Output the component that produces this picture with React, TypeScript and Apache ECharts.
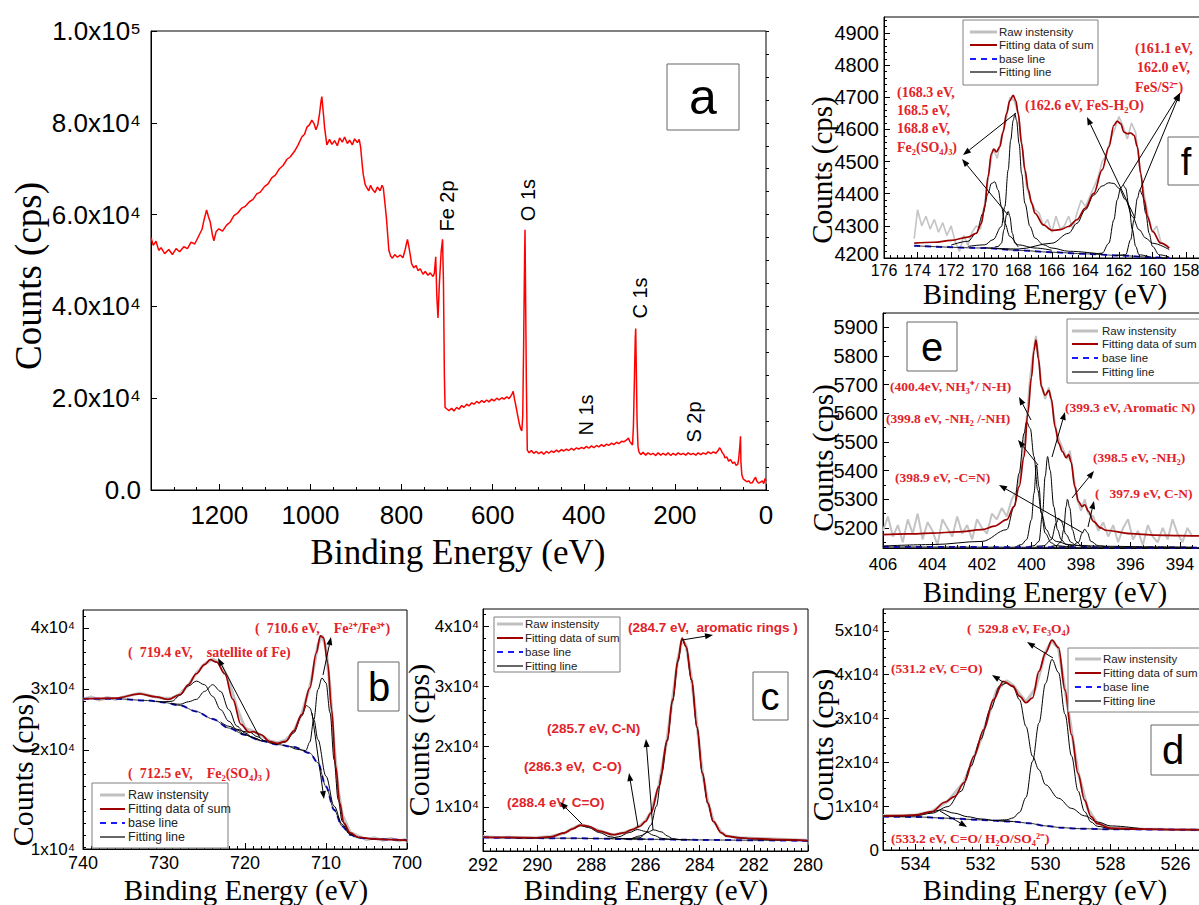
import React, { useEffect, useRef } from "react";
import * as echarts from "echarts";

const SANS = "'Liberation Sans', Arial, sans-serif";
const SERIF = "'Liberation Serif', 'Times New Roman', serif";
const RED = "#e2232a";

// ---------------- Panel a : survey ----------------
const surveyData: [number, number][] = [
  [1350, 55000], [1345, 53300], [1339, 54200], [1333, 52200], [1328, 52800], [1320, 51500], [1311, 52400], [1303, 51300],
  [1295, 52600], [1287, 51900], [1278, 53000], [1270, 52600], [1262, 54000], [1254, 53600], [1245, 55400], [1238, 56800],
  [1234, 58700], [1228, 61000], [1224, 59600], [1220, 58400], [1215, 55500], [1212, 54300], [1207, 56300], [1201, 56900],
  [1193, 56400], [1184, 57700], [1176, 58400], [1168, 59800], [1160, 60300], [1151, 61400], [1143, 61800], [1134, 62800],
  [1126, 63300], [1118, 64500], [1110, 64900], [1101, 66100], [1093, 66700], [1085, 68000], [1077, 68600], [1068, 70000],
  [1060, 70700], [1052, 72000], [1044, 72600], [1035, 73800], [1027, 75200], [1019, 76900], [1013, 77500], [1008, 79000],
  [1002, 79600], [997, 80600], [992, 79800], [988, 78500], [984, 79500], [980, 82000], [977, 84500], [975, 85700],
  [972, 82500], [969, 79000], [964, 75200], [958, 76400], [953, 75300], [947, 76100], [941, 75000], [936, 76700],
  [930, 75800], [925, 76900], [919, 75500], [914, 76200], [908, 75200], [903, 76500], [897, 75700], [893, 76400],
  [890, 74800], [886, 70500], [884, 68700], [880, 66600], [877, 66000], [872, 65200], [868, 66400], [864, 65500],
  [858, 64800], [853, 66000], [847, 65200], [843, 66400], [840, 65800], [836, 62000], [833, 59000], [830, 55000],
  [828, 52300], [824, 51000], [820, 50500], [815, 51300], [809, 50700], [803, 51200], [797, 50600], [792, 52400],
  [789, 53800], [787, 54600], [784, 53000], [781, 51300], [778, 49300], [773, 48400], [768, 48900], [764, 47800],
  [759, 48200], [753, 47000], [748, 47600], [742, 46800], [737, 47300], [731, 46500], [728, 47200], [725, 50800],
  [722.5, 42000], [720, 37500], [717, 45000], [713, 52000], [710, 54600], [708, 45000], [706, 25000], [704.5, 18000],
  [701, 17700], [696, 17300], [690, 17800], [685, 17200], [679, 18000], [674, 17600], [668, 18400], [663, 18000],
  [657, 18700], [652, 18300], [646, 19000], [641, 18700], [635, 19300], [630, 18900], [624, 19500], [619, 19100],
  [613, 19600], [608, 19200], [602, 19800], [597, 19400], [591, 20000], [586, 19600], [580, 20100], [575, 19800],
  [569, 20300], [564, 19900], [560, 20500], [557, 21000], [555, 21500], [552, 19800], [549, 18300], [545, 16200],
  [541, 14200], [538, 13200], [536, 12900], [534, 16000], [532, 31700], [530, 50000], [529, 56700], [527.5, 40000],
  [526, 23300], [524, 8700], [520, 8100], [515, 8600], [510, 8000], [504, 8400], [499, 7900], [493, 8300],
  [488, 7800], [482, 8400], [477, 8000], [471, 8500], [466, 8200], [460, 8700], [455, 8300], [449, 8800],
  [444, 8500], [438, 8900], [433, 8600], [427, 9100], [422, 8700], [416, 9200], [411, 8900], [405, 9300],
  [400, 9000], [394, 9500], [389, 9100], [383, 9600], [378, 9200], [372, 9700], [367, 9400], [361, 9900],
  [356, 9500], [350, 10000], [345, 9700], [339, 10200], [334, 9900], [328, 10400], [323, 10100], [317, 10600],
  [312, 10500], [306, 10900], [302, 11300], [299, 10600], [296, 10200], [293, 9800], [291, 14000], [289, 23300],
  [287, 33000], [286, 35200], [284.5, 25000], [283, 15000], [281, 9500], [279, 8300], [275, 7700], [270, 8200],
  [264, 7600], [259, 8100], [253, 7700], [248, 8000], [242, 7500], [237, 8100], [231, 7600], [226, 8000],
  [220, 7600], [215, 8100], [209, 7500], [204, 8000], [198, 7600], [193, 8100], [187, 7700], [182, 8000],
  [176, 7600], [171, 8100], [165, 7700], [160, 8000], [154, 7600], [149, 8100], [143, 7700], [138, 8100],
  [132, 7800], [127, 8300], [121, 7900], [116, 8300], [110, 8000], [105, 8600], [102, 9200], [99, 8800],
  [96, 8100], [93, 7800], [90, 7000], [86, 7200], [82, 6300], [78, 6600], [73, 5800], [69, 6100],
  [66, 5400], [62, 5600], [60, 6700], [57, 10000], [56, 11700], [55, 6000], [53, 3300], [50, 2400],
  [46, 2100], [42, 1800], [38, 2000], [34, 1500], [30, 1600], [26, 2300], [23, 2800], [20, 1900],
  [16, 1500], [12, 1700], [8, 2000], [5, 1400], [2, 2500], [0, 2000],
];
const surveyPeaks = [
  { name: "Fe 2p", x: 447, y: 206 },
  { name: "O 1s", x: 528, y: 200 },
  { name: "C 1s", x: 640, y: 298 },
  { name: "N 1s", x: 586, y: 415 },
  { name: "S 2p", x: 694, y: 422 },
];

// ---------------- Panel b : Fe 2p ----------------
const bRaw: [number, number][] = [
  [740, 28300], [739, 28700], [738, 28200], [737, 28600], [736, 28300], [735, 28700], [734, 29000], [733, 29300],
  [732, 29000], [731, 28700], [730, 28500], [729, 28500], [728, 29200], [727, 30600], [726, 32600], [725, 34100],
  [724, 34900], [723, 34200], [722, 31500], [721, 26900], [720, 23600], [719, 23100], [718, 22400], [717, 21500],
  [716, 21200], [715, 21600], [714, 23000], [713, 25900], [712, 30300], [711.5, 33600], [711, 37200], [710.5, 38800],
  [710, 36800], [709.5, 30100], [709, 20800], [708.5, 13600], [708, 9400], [707, 6500], [706, 5900], [705, 5300],
  [704, 5600], [703, 5200], [702, 5500], [701, 5100], [700, 5400],
];
const bSum: [number, number][] = [
  [740, 28400], [736, 28500], [733, 29200], [731, 28700], [729.5, 28300], [728, 29100], [727, 30700], [726, 32500],
  [725, 34000], [724.3, 34800], [723.5, 34400], [722.5, 32500], [721.5, 28300], [720.5, 24200], [719.5, 22900],
  [719, 23000], [718, 22500], [717, 21400], [716, 21100], [715, 21400], [714, 23100], [713, 25800], [712, 30200],
  [711.2, 35900], [710.7, 38700], [710.3, 38400], [709.8, 34300], [709.3, 26600], [708.8, 17300], [708.3, 11300],
  [707.8, 8000], [707, 6400], [706, 5700], [704, 5400], [702, 5300], [700, 5200],
];
const bBase: [number, number][] = [
  [740, 28400], [736, 28400], [732, 28100], [730, 27800], [728, 27300], [726, 26300], [724, 25100], [722, 23600],
  [720, 22500], [718, 21500], [716, 20900], [714, 20500], [712, 19500], [711, 17900], [710, 14000], [709, 10200],
  [708, 7500], [707, 6100], [706, 5600], [704, 5400], [700, 5200],
];
const bComp726: [number, number][] = [
  [731, 28000], [730, 27900], [729, 28000], [728, 29000], [727, 30500], [726, 31300], [725, 30700], [724, 28800],
  [723, 26600], [722, 24700], [721, 23300], [720, 22500], [719, 22000], [718, 21500],
];
const bComp724: [number, number][] = [
  [729, 27600], [728, 27500], [727, 27900], [726, 28300], [725, 29600], [724, 30700], [723, 29600], [722, 26600],
  [721, 23900], [720, 22800], [719, 22000], [718, 21500],
];
const bComp719: [number, number][] = [
  [723, 24600], [722, 23900], [721, 23400], [720, 23000], [719.4, 22900], [718.5, 22200], [717.5, 21500], [716, 20900],
];
const bComp712: [number, number][] = [
  [717, 21200], [716, 21000], [715, 21300], [714, 22800], [713, 25600], [712.4, 27300], [712, 26900], [711.5, 25000],
  [711, 21700], [710, 15700], [709, 10800], [708, 7800], [707, 6200], [706, 5600],
];
const bComp710: [number, number][] = [
  [714.5, 20600], [713.5, 20100], [712.5, 19900], [712, 21300], [711.5, 25000], [711, 29900], [710.5, 31800],
  [710, 31000], [709.5, 26100], [709, 18400], [708.5, 11900], [708, 8300], [707, 6200], [706, 5600],
];

// ---------------- Panel c : C 1s ----------------
const cRaw: [number, number][] = [
  [292, 5100], [291.5, 4950], [291, 5000], [290.5, 4900], [290, 4950], [289.5, 5100], [289, 5650], [288.7, 6400],
  [288.4, 7050], [288.1, 6750], [287.7, 6050], [287.2, 5350], [286.8, 5750], [286.5, 6200], [286.2, 6900], [286, 7700],
  [285.8, 9100], [285.5, 13600], [285.2, 21300], [285, 28000], [284.8, 34600], [284.65, 37700], [284.5, 36800],
  [284.3, 31300], [284.1, 23600], [283.9, 15800], [283.7, 10900], [283.5, 7800], [283.2, 5800], [283, 5200],
  [282.5, 4900], [282, 4800], [281, 4650], [280, 4480],
];
const cSum: [number, number][] = [
  [292, 5000], [291, 4950], [290, 4900], [289.5, 5050], [289, 5700], [288.7, 6350], [288.4, 7000], [288.1, 6800],
  [287.7, 6000], [287.2, 5400], [286.8, 5700], [286.5, 6250], [286.2, 6800], [286, 7600], [285.8, 9000], [285.5, 13400],
  [285.2, 21100], [285, 27800], [284.8, 34400], [284.65, 38000], [284.5, 36600], [284.3, 31100], [284.1, 23300],
  [283.9, 15600], [283.7, 10700], [283.5, 7600], [283.2, 5700], [283, 5150], [282.5, 4870], [282, 4760], [281, 4600],
  [280, 4430],
];
const cBase: [number, number][] = [
  [292, 4930], [289, 4820], [286, 4650], [284, 4540], [282, 4480], [280, 4380],
];
const cComp2884: [number, number][] = [
  [291, 4900], [290, 4870], [289.5, 5040], [289, 5700], [288.7, 6350], [288.4, 6900], [288.1, 6600], [287.7, 5750],
  [287.3, 5050], [287, 4800], [286.5, 4720], [286, 4670],
];
const cComp2863: [number, number][] = [
  [287.5, 4760], [287.3, 4790], [287, 5050], [286.6, 5750], [286.3, 6250], [286, 5950], [285.7, 5300], [285.4, 4800],
  [285, 4620], [284.5, 4570],
];
const cComp2857: [number, number][] = [
  [286.8, 4700], [286.6, 4710], [286.2, 5200], [285.9, 5860], [285.7, 6200], [285.4, 5860], [285.2, 5200], [285, 4760],
  [284.7, 4580], [284.3, 4540],
];
const cComp2847: [number, number][] = [
  [286.6, 4680], [286.2, 4900], [286, 5600], [285.8, 7000], [285.6, 10100], [285.4, 15600], [285.2, 20900], [285, 27500],
  [284.8, 34100], [284.65, 37800], [284.5, 36500], [284.3, 31000], [284.1, 23200], [283.9, 15600], [283.7, 10600],
  [283.5, 7600], [283.2, 5700], [283, 5150], [282.5, 4870], [282, 4700], [281, 4560], [280, 4400],
];

// ---------------- Panel d : O 1s ----------------
const dRaw: [number, number][] = [
  [535, 7900], [534.5, 7800], [534, 8000], [533.5, 8800], [533, 11200], [532.5, 15600], [532, 25000], [531.5, 36500],
  [531.2, 38600], [531, 37600], [530.6, 33800], [530.3, 37000], [530, 45200], [529.8, 47800], [529.6, 46000],
  [529.3, 32000], [529, 17800], [528.7, 9400], [528.4, 6100], [528, 5100], [527, 4800], [526, 4700], [525, 4600],
];
const dSum: [number, number][] = [
  [535, 7800], [534.5, 7850], [534, 7950], [533.5, 8750], [533.1, 10900], [532.8, 12200], [532.5, 15400], [532.2, 21400],
  [531.9, 27500], [531.6, 34300], [531.3, 38500], [531, 37400], [530.8, 35100], [530.6, 33600], [530.4, 34700],
  [530.2, 40800], [530, 45000], [529.8, 47900], [529.6, 46200], [529.4, 36500], [529.2, 26300], [529, 17500],
  [528.8, 11400], [528.6, 7600], [528.4, 6000], [528, 5000], [527, 4750], [526, 4650], [525, 4600],
];
const dBase: [number, number][] = [
  [535, 7630], [534, 7550], [533, 7250], [532, 6870], [531, 6490], [530.5, 6100], [530, 5500], [529.5, 5100],
  [529, 4880], [528, 4730], [525, 4580],
];
const dComp5312: [number, number][] = [
  [534.5, 7700], [534, 7800], [533.5, 8400], [533, 9900], [532.6, 13400], [532.3, 19100], [532, 25200], [531.7, 32000],
  [531.4, 37500], [531.2, 38100], [531, 37200], [530.8, 34300], [530.6, 28200], [530.4, 21400], [530.2, 18300],
  [530, 14900], [529.6, 11800], [529.2, 9500], [528.8, 7800], [528.4, 6400], [528, 5500], [527, 4800],
];
const dComp5298: [number, number][] = [
  [531.6, 6700], [531.2, 6900], [531, 7300], [530.8, 8600], [530.6, 12000], [530.4, 20200], [530.2, 29000],
  [530, 38000], [529.8, 43500], [529.6, 40500], [529.4, 31000], [529.2, 21500], [529, 13500], [528.8, 8800],
  [528.6, 6400], [528.4, 5400], [528, 4900], [527, 4730], [525, 4580],
];
const dComp5332: [number, number][] = [
  [535, 7650], [534.5, 7700], [534, 8000], [533.6, 8550], [533.2, 9150], [532.8, 8400], [532.4, 7600], [532, 7100],
  [531.5, 6700], [531, 6500],
];

// ---------------- Panel e : N 1s ----------------
const eRaw: [number, number][] = [
  [406, 5190], [405.8, 5240], [405.6, 5170], [405.4, 5210], [405.2, 5150], [405, 5230], [404.8, 5180], [404.6, 5250],
  [404.4, 5160], [404.2, 5220], [404, 5190], [403.8, 5140], [403.6, 5230], [403.4, 5200], [403.2, 5170], [403, 5240],
  [402.8, 5180], [402.6, 5210], [402.4, 5160], [402.2, 5230], [402, 5200], [401.8, 5180], [401.6, 5250], [401.4, 5230],
  [401.2, 5270], [401, 5240], [400.8, 5300], [400.6, 5330], [400.4, 5420], [400.2, 5580], [400.05, 5730], [399.9, 5830],
  [399.82, 5870], [399.72, 5800], [399.6, 5700], [399.45, 5650], [399.3, 5690], [399.15, 5620], [399, 5540],
  [398.85, 5500], [398.7, 5470], [398.55, 5440], [398.45, 5470], [398.3, 5380], [398.15, 5300], [398, 5260],
  [397.85, 5300], [397.7, 5250], [397.5, 5240], [397.3, 5190], [397.1, 5220], [396.9, 5170], [396.7, 5210],
  [396.5, 5150], [396.3, 5200], [396.1, 5230], [395.9, 5160], [395.7, 5190], [395.5, 5140], [395.3, 5210],
  [395.1, 5170], [394.9, 5150], [394.7, 5200], [394.5, 5160], [394.3, 5230], [394.1, 5180], [393.9, 5150],
  [393.7, 5200], [393.5, 5170],
];
const eSum: [number, number][] = [
  [406, 5177], [405, 5179], [404, 5182], [403, 5186], [402, 5194], [401.5, 5206], [401, 5229], [400.7, 5275],
  [400.5, 5344], [400.3, 5449], [400.15, 5599], [400, 5726], [399.9, 5819], [399.82, 5856], [399.72, 5790],
  [399.6, 5692], [399.45, 5663], [399.3, 5680], [399.2, 5651], [399.05, 5553], [398.9, 5495], [398.75, 5466],
  [398.6, 5445], [398.5, 5456], [398.4, 5430], [398.25, 5344], [398.1, 5292], [397.95, 5275], [397.85, 5281],
  [397.7, 5258], [397.5, 5223], [397.2, 5200], [397, 5192], [396, 5180], [395, 5175], [394, 5173], [393, 5172],
  [392, 5172],
];
const eBase: [number, number][] = [[406, 5134], [392, 5131]];
const eComp4004: [number, number][] = [
  [406, 5137], [404, 5142], [402, 5153], [401, 5194], [400.7, 5275], [400.5, 5391], [400.3, 5530], [400.2, 5570],
  [400.05, 5547], [399.9, 5449], [399.75, 5333], [399.6, 5252], [399.4, 5194], [399.2, 5165], [399, 5153],
  [398.5, 5142], [398, 5138], [397, 5136], [395, 5134], [393.5, 5133],
];
const eComp3998: [number, number][] = [
  [400.6, 5136], [400.4, 5142], [400.2, 5159], [400, 5229], [399.9, 5321], [399.8, 5420], [399.7, 5344], [399.6, 5252],
  [399.45, 5182], [399.2, 5148], [399, 5138], [398.6, 5135],
];
const eComp3993: [number, number][] = [
  [400.1, 5135], [399.9, 5138], [399.7, 5153], [399.55, 5252], [399.45, 5379], [399.35, 5449], [399.25, 5402],
  [399.1, 5275], [398.95, 5194], [398.8, 5159], [398.6, 5142], [398.3, 5136],
];
const eComp3989: [number, number][] = [
  [399.8, 5136], [399.5, 5138], [399.2, 5159], [399, 5217], [398.9, 5234], [398.8, 5223], [398.6, 5177], [398.4, 5150],
  [398.2, 5139], [397.8, 5135],
];
const eComp3985: [number, number][] = [
  [399.2, 5136], [399, 5138], [398.8, 5153], [398.7, 5194], [398.6, 5275], [398.55, 5300], [398.45, 5269],
  [398.35, 5194], [398.2, 5153], [398, 5139], [397.6, 5135],
];
const eComp3979: [number, number][] = [
  [398.6, 5135], [398.4, 5136], [398.1, 5150], [397.95, 5182], [397.85, 5196], [397.75, 5185], [397.6, 5153],
  [397.3, 5138], [397, 5135],
];

// ---------------- Panel f : S 2p ----------------
const fRaw: [number, number][] = [
  [174.2, 4260], [174, 4350], [173.75, 4300], [173.5, 4330], [173.25, 4290], [173, 4320], [172.75, 4280], [172.5, 4310],
  [172.25, 4270], [172, 4300], [171.75, 4250], [171.5, 4220], [171.25, 4270], [171, 4240], [170.75, 4280], [170.5, 4300],
  [170.25, 4290], [170, 4370], [169.75, 4460], [169.5, 4540], [169.25, 4510], [169, 4580], [168.75, 4620], [168.5, 4700],
  [168.25, 4690], [168, 4650], [167.75, 4540], [167.5, 4420], [167.25, 4380], [167, 4350], [166.75, 4340], [166.5, 4300],
  [166.25, 4320], [166, 4280], [165.75, 4330], [165.5, 4290], [165.25, 4300], [165, 4330], [164.75, 4290], [164.5, 4340],
  [164.25, 4380], [164, 4360], [163.75, 4390], [163.5, 4420], [163.25, 4450], [163, 4500], [162.75, 4520], [162.5, 4570],
  [162.25, 4600], [162, 4640], [161.75, 4610], [161.5, 4570], [161.25, 4620], [161, 4590], [160.75, 4480], [160.5, 4400],
  [160.25, 4330], [160, 4280], [159.75, 4300], [159.5, 4250], [159.25, 4240], [159, 4230],
];
const fSum: [number, number][] = [
  [174.2, 4246], [173, 4249], [172, 4255], [171, 4265], [170.5, 4277], [170.2, 4308], [170, 4360], [169.8, 4453],
  [169.6, 4525], [169.45, 4539], [169.3, 4530], [169.1, 4546], [168.9, 4592], [168.7, 4649], [168.5, 4690],
  [168.3, 4706], [168.15, 4690], [168, 4649], [167.8, 4556], [167.6, 4474], [167.4, 4412], [167.2, 4370], [167, 4339],
  [166.5, 4303], [166, 4286], [165.5, 4288], [165, 4298], [164.5, 4319], [164, 4355], [163.5, 4401], [163, 4474],
  [162.6, 4546], [162.3, 4613], [162.1, 4626], [161.9, 4618], [161.7, 4592], [161.5, 4587], [161.3, 4589],
  [161.1, 4582], [160.9, 4546], [160.7, 4463], [160.5, 4381], [160.3, 4329], [160, 4283], [159.5, 4246], [159, 4231],
];
const fBase: [number, number][] = [
  [174.2, 4238], [170, 4231], [168, 4224], [166, 4218], [164, 4213], [162, 4208], [160, 4202], [159, 4200],
];
const fComp1683: [number, number][] = [
  [171, 4236], [170, 4241], [169.5, 4257], [169, 4298], [168.8, 4360], [168.6, 4474], [168.45, 4567], [168.3, 4628],
  [168.2, 4649], [168.1, 4628], [167.95, 4556], [167.8, 4463], [167.6, 4370], [167.3, 4298], [167, 4262],
  [166.5, 4241], [166, 4231], [165, 4221], [163, 4212],
];
const fComp1694: [number, number][] = [
  [172, 4240], [171, 4252], [170.5, 4277], [170.1, 4339], [169.8, 4401], [169.6, 4432], [169.4, 4437], [169.2, 4412],
  [169, 4360], [168.8, 4308], [168.5, 4267], [168, 4241], [167, 4231], [166, 4224],
];
const fComp1686: [number, number][] = [
  [169.4, 4234], [169.2, 4236], [169, 4246], [168.85, 4288], [168.7, 4334], [168.6, 4345], [168.5, 4329],
  [168.35, 4277], [168.2, 4246], [168, 4234],
];
const fComp1626: [number, number][] = [
  [170, 4232], [168, 4228], [166, 4246], [165, 4277], [164.5, 4308], [164, 4350], [163.5, 4396], [163, 4424],
  [162.6, 4434], [162.3, 4432], [162, 4417], [161.6, 4381], [161.2, 4329], [160.8, 4288], [160.4, 4262], [160, 4246],
  [159, 4226],
];
const fComp1620: [number, number][] = [
  [163.5, 4212], [163, 4215], [162.6, 4246], [162.3, 4319], [162.1, 4381], [161.9, 4417], [161.75, 4427],
  [161.6, 4417], [161.4, 4360], [161.2, 4288], [161, 4236], [160.8, 4210], [160.2, 4204],
];
const fComp1611: [number, number][] = [
  [162.2, 4208], [161.6, 4210], [161.3, 4257], [161.1, 4319], [160.9, 4386], [160.75, 4412], [160.6, 4396],
  [160.4, 4339], [160.2, 4277], [160, 4236], [159.6, 4210], [159, 4203],
];

// ---------------- tick labels ----------------
const aXTicks = [0, 200, 400, 600, 800, 1000, 1200];
const aYTicks = [0, 20000, 40000, 60000, 80000, 100000];
const fXTicks = [176, 174, 172, 170, 168, 166, 164, 162, 160, 158];
const fYTicks = [4200, 4300, 4400, 4500, 4600, 4700, 4800, 4900];
const eXTicks = [406, 404, 402, 400, 398, 396, 394];
const eYTicks = [5200, 5300, 5400, 5500, 5600, 5700, 5800, 5900];
const bXTicks = [740, 730, 720, 710, 700];
const B_YMIN = 3770;
const bYTicks = [B_YMIN, 20000, 30000, 40000];
const cXTicks = [292, 290, 288, 286, 284, 282, 280];
const cYTicks = [10000, 20000, 30000, 40000];
const dXTicks = [534, 532, 530, 528, 526];
const dYTicks = [0, 10000, 20000, 30000, 40000, 50000];

// ---------------- annotations ----------------
const annotations = [
  { t: "(168.3 eV,", x: 897, y: 92, fs: 14, f: SERIF },
  { t: "168.5 eV,", x: 897, y: 110, fs: 14, f: SERIF },
  { t: "168.8 eV,", x: 897, y: 128, fs: 14, f: SERIF },
  { t: "Fe₂(SO₄)₃)", x: 897, y: 147, fs: 14, f: SERIF },
  { t: "(162.6 eV, FeS-H₂O)", x: 1025, y: 105, fs: 14, f: SERIF },
  { t: "(161.1 eV,", x: 1135, y: 48, fs: 14, f: SERIF },
  { t: "162.0 eV,", x: 1137, y: 67, fs: 14, f: SERIF },
  { t: "FeS/S²⁻)", x: 1135, y: 87, fs: 14, f: SERIF },
  { t: "(400.4eV, NH₃⁺/ N-H)", x: 890, y: 386, fs: 13.5, f: SERIF },
  { t: "(399.8 eV, -NH₂ /-NH)", x: 886, y: 418, fs: 13.5, f: SERIF },
  { t: "(398.9 eV, -C=N)", x: 895, y: 477, fs: 13.5, f: SERIF },
  { t: "(399.3 eV, Aromatic N)", x: 1065, y: 407, fs: 13.5, f: SERIF },
  { t: "(398.5 eV, -NH₂)", x: 1093, y: 457, fs: 13.5, f: SERIF },
  { t: "(\u00a0\u00a0\u00a0397.9 eV, C-N)", x: 1095, y: 493, fs: 13.5, f: SERIF },
  { t: "(\u00a0\u00a0719.4 eV,\u00a0\u00a0\u00a0\u00a0satellite of Fe)", x: 128, y: 652, fs: 14, f: SERIF },
  { t: "(\u00a0\u00a0710.6 eV,\u00a0\u00a0\u00a0\u00a0Fe²⁺/Fe³⁺)", x: 255, y: 628, fs: 14, f: SERIF },
  { t: "(\u00a0\u00a0712.5 eV,\u00a0\u00a0\u00a0\u00a0Fe₂(SO₄)₃ )", x: 128, y: 773, fs: 14, f: SERIF },
  { t: "(284.7 eV,\u00a0\u00a0aromatic rings )", x: 628, y: 627, fs: 13.5, f: SANS },
  { t: "(285.7 eV, C-N)", x: 547, y: 728, fs: 13.5, f: SANS },
  { t: "(286.3 eV,\u00a0\u00a0C-O)", x: 524, y: 766, fs: 13.5, f: SANS },
  { t: "(288.4 eV, C=O)", x: 507, y: 802, fs: 13.5, f: SANS },
  { t: "(\u00a0\u00a0529.8 eV, Fe₃O₄)", x: 967, y: 628, fs: 13.5, f: SERIF },
  { t: "(531.2 eV, C=O)", x: 891, y: 668, fs: 13.5, f: SERIF },
  { t: "(533.2 eV, C=O/ H₂O/SO₄²⁻)", x: 891, y: 838, fs: 13.5, f: SERIF },
];
const arrows: [number, number, number, number][] = [
  [1016, 113, 963, 155], [1008, 215, 962, 159], [1135, 218, 1087, 117], [1123, 185, 1180, 93], [1140, 190, 1180, 93],
  [1031, 420, 1019, 397], [1038, 465, 1018, 440], [1052, 457, 1065, 412], [1083, 533, 999, 485], [1072, 498, 1094, 471],
  [1088, 527, 1094, 501],
  [260, 738, 218, 658], [323, 675, 331, 637], [312, 713, 324, 799],
  [682, 640, 713, 635], [653, 830, 646, 739], [638, 827, 629, 773], [582, 824, 560, 802],
  [1053, 658, 1027, 642], [1003, 682, 992, 675], [940, 811, 967, 827],
];

// ---------------- layout ----------------
const grids = [
  { left: 151, top: 31, width: 615, height: 459 },   // a
  { left: 884, top: 17, width: 335.6, height: 241 }, // f
  { left: 883, top: 313, width: 346.5, height: 235 },// e
  { left: 83, top: 610, width: 324, height: 239 },   // b
  { left: 483, top: 609, width: 325, height: 242 },  // c
  { left: 883, top: 609, width: 325, height: 241 },  // d
];

const range = (a: number, b: number, s: number) => {
  const out: number[] = [];
  for (let v = a; v <= b + 1e-9; v += s) out.push(Math.round(v * 1000) / 1000);
  return out;
};
const sup = (n: number) => (n === 5 ? "⁵" : "⁴");
const fmtA = (v: number) => (v === 0 ? "0.0" : v === 100000 ? "1.0x10" + sup(5) : (v / 10000).toFixed(1) + "x10" + sup(4));
const fmtB = (v: number) => (v < 10000 ? "1x10⁴" : v / 10000 + "x10⁴");
const fmtCD = (v: number) => (v === 0 ? "0" : v / 10000 + "x10⁴");
const fmtPlain = (v: number) => String(v);
const fmtF = (v: number) => (v === 4200 ? "{l|" + v + "}" : "{n|" + v + "}");

type AxSpec = {
  min: number; max: number; inverse?: boolean; majors: number[]; minors: number[];
  fmt: (v: number) => string; font: number; margin: number; rich?: any;
};

function makeAxes(grid: number, s: AxSpec, dim: "x" | "y") {
  const base: any = {
    type: "value", gridIndex: grid, min: s.min, max: s.max, inverse: !!s.inverse,
    position: dim === "x" ? "bottom" : "left",
    splitLine: { show: false },
    axisLine: { show: true, onZero: false, lineStyle: { color: "#000", width: 1 } },
  };
  const label: any = {
    show: true, customValues: s.majors, formatter: s.fmt, fontFamily: SANS, fontSize: s.font,
    color: "#000", margin: s.margin,
  };
  if (s.rich) label.rich = s.rich;
  const major = {
    ...base,
    axisTick: { show: true, inside: true, length: 6, customValues: s.majors, lineStyle: { color: "#000", width: 1 } },
    axisLabel: label,
  };
  const minor = {
    ...base,
    axisLine: { show: false },
    axisTick: { show: true, inside: true, length: 3, customValues: s.minors, lineStyle: { color: "#000", width: 1 } },
    axisLabel: { show: false },
  };
  return [major, minor];
}

const fRich = {
  l: { fontSize: 20, fontFamily: SANS, color: "#000", padding: [0, 0, 9, 0] },
  n: { fontSize: 20, fontFamily: SANS, color: "#000" },
};

const panelAxes: { x: AxSpec; y: AxSpec }[] = [
  {
    x: { min: 0, max: 1350, inverse: true, majors: aXTicks, minors: range(0, 1350, 50), fmt: fmtPlain, font: 26, margin: 12 },
    y: { min: 0, max: 100000, majors: aYTicks, minors: range(0, 100000, 5000), fmt: fmtA, font: 26, margin: 10 },
  },
  {
    x: { min: 156, max: 176, inverse: true, majors: fXTicks, minors: range(156, 176, 0.4), fmt: fmtPlain, font: 16, margin: 4 },
    y: { min: 4200, max: 4950, majors: fYTicks, minors: range(4200, 4940, 20), fmt: fmtF, font: 20, margin: 5, rich: fRich },
  },
  {
    x: { min: 392, max: 406, inverse: true, majors: eXTicks, minors: range(392, 406, 0.5), fmt: fmtPlain, font: 17, margin: 8 },
    y: { min: 5130, max: 5950, majors: eYTicks, minors: range(5150, 5950, 50), fmt: fmtPlain, font: 20, margin: 5 },
  },
  {
    x: { min: 700, max: 740, inverse: true, majors: bXTicks, minors: range(700, 740, 1), fmt: fmtPlain, font: 18, margin: 5 },
    y: { min: B_YMIN, max: 42950, majors: bYTicks, minors: range(4000, 42000, 2000), fmt: fmtB, font: 17, margin: 8 },
  },
  {
    x: { min: 280, max: 292, inverse: true, majors: cXTicks, minors: range(280, 292, 0.25), fmt: fmtPlain, font: 18, margin: 5 },
    y: { min: 2700, max: 42820, majors: cYTicks, minors: range(4000, 42000, 2000), fmt: fmtCD, font: 17, margin: 4 },
  },
  {
    x: { min: 525, max: 535, inverse: true, majors: dXTicks, minors: range(525, 535, 0.25), fmt: fmtPlain, font: 18, margin: 5 },
    y: { min: 0, max: 55000, majors: dYTicks, minors: range(0, 54000, 2000), fmt: fmtCD, font: 17, margin: 4 },
  },
];

const RAW_C = "#c4c4c4";
const SUM_C = "#9e0000";
const BASE_C = "#1a1aff";

function ser(p: number, data: [number, number][], color: string, width: number, z: number, smooth: number | boolean, dash?: number[]) {
  return {
    type: "line", xAxisIndex: 2 * p, yAxisIndex: 2 * p, data, showSymbol: false, symbol: "none",
    smooth, smoothMonotone: "x", z, silent: true, animation: false,
    lineStyle: { color, width, type: dash ? dash : "solid" },
  };
}

function fitPanel(p: number, raw: [number, number][], sum: [number, number][], basel: [number, number][], comps: [number, number][][], rawW: number) {
  const out: any[] = [];
  out.push(ser(p, raw, RAW_C, rawW, 1, false));
  out.push(ser(p, basel, BASE_C, 2, 2, 0.3, [6, 5]));
  out.push(ser(p, basel, "#000", 0.8, 3, 0.3));
  comps.forEach((c) => out.push(ser(p, c, "#000", 1, 3, 0.35)));
  out.push(ser(p, sum, SUM_C, 1.7, 4, 0.35));
  return out;
}

function legendEls(bx: number, by: number, bw: number, bh: number, rows: number[], lx0: number, lx1: number, tx: number, fs: number) {
  const els: any[] = [
    { type: "rect", shape: { x: bx, y: by, width: bw, height: bh }, style: { fill: "#fff", stroke: "#808080", lineWidth: 1 }, z: 50 },
  ];
  const specs: [string, string, number, number[] | null][] = [
    ["Raw instensity", "#c0c0c0", 3, null],
    ["Fitting data of sum", "#a00000", 2, null],
    ["base line", BASE_C, 2, [6, 5]],
    ["Fitting line", "#000", 1.2, null],
  ];
  specs.forEach((s, i) => {
    els.push({
      type: "line", shape: { x1: lx0, y1: rows[i], x2: lx1, y2: rows[i] },
      style: { stroke: s[1], lineWidth: s[2], lineDash: s[3] || null }, z: 51,
    });
    els.push({
      type: "text", x: tx, y: rows[i], z: 51,
      style: { text: s[0], fontSize: fs, fontFamily: SANS, fill: "#222", align: "left", verticalAlign: "middle", textAlign: "left", textVerticalAlign: "middle" },
    });
  });
  return els;
}

function labelBox(x: number, y: number, w: number, h: number, t: string, cx: number, cy: number, fs: number) {
  return [
    { type: "rect", shape: { x, y, width: w, height: h }, style: { fill: "#fff", stroke: "#666", lineWidth: 1 }, z: 50 },
    {
      type: "text", x: cx, y: cy, z: 51,
      style: { text: t, fontSize: fs, fontFamily: SANS, fill: "#000", align: "center", verticalAlign: "middle", textAlign: "center", textVerticalAlign: "middle" },
    },
  ];
}

function txt(t: string, x: number, y: number, fs: number, family: string, color: string, opts: any = {}) {
  return {
    type: "text", x, y, z: 60, rotation: opts.rot || 0,
    style: {
      text: t, fontSize: fs, fontFamily: family, fontWeight: opts.bold ? "bold" : "normal", fill: color,
      align: opts.align || "left", verticalAlign: "middle", textAlign: opts.align || "left", textVerticalAlign: "middle",
    },
  };
}

function arrowEls(x1: number, y1: number, x2: number, y2: number) {
  const ang = Math.atan2(y2 - y1, x2 - x1);
  const L = 8, W = 3;
  const bx = x2 - L * Math.cos(ang), by = y2 - L * Math.sin(ang);
  const px = -Math.sin(ang) * W, py = Math.cos(ang) * W;
  return [
    { type: "line", z: 60, shape: { x1, y1, x2: bx, y2: by }, style: { stroke: "#000", lineWidth: 1 } },
    { type: "polygon", z: 60, shape: { points: [[x2, y2], [bx + px, by + py], [bx - px, by - py]] }, style: { fill: "#000" } },
  ];
}

function buildOption() {
  const xAxis: any[] = [];
  const yAxis: any[] = [];
  panelAxes.forEach((pa, i) => {
    xAxis.push(...makeAxes(i, pa.x, "x"));
    yAxis.push(...makeAxes(i, pa.y, "y"));
  });
  const series: any[] = [];
  series.push({ ...ser(0, surveyData, "#ff0000", 1.5, 2, false) });
  series.push(...fitPanel(1, fRaw, fSum, fBase, [fComp1683, fComp1694, fComp1686, fComp1626, fComp1620, fComp1611], 1.6));
  series.push(...fitPanel(2, eRaw, eSum, eBase, [eComp4004, eComp3998, eComp3993, eComp3989, eComp3985, eComp3979], 2));
  series.push(...fitPanel(3, bRaw, bSum, bBase, [bComp726, bComp724, bComp719, bComp712, bComp710], 3));
  series.push(...fitPanel(4, cRaw, cSum, cBase, [cComp2884, cComp2863, cComp2857, cComp2847], 3));
  series.push(...fitPanel(5, dRaw, dSum, dBase, [dComp5312, dComp5298, dComp5332], 3));

  const g: any[] = [];
  const R = Math.PI / 2;
  g.push(txt("Counts (cps)", 28, 276, 37, SERIF, "#000", { rot: R, align: "center" }));
  g.push(txt("Binding Energy (eV)", 458, 552, 35, SERIF, "#000", { align: "center" }));
  g.push(txt("Counts (cps)", 822, 170, 29, SERIF, "#000", { rot: R, align: "center" }));
  g.push(txt("Binding Energy (eV)", 1045, 294, 29, SERIF, "#000", { align: "center" }));
  g.push(txt("Counts (cps)", 823, 458, 29, SERIF, "#000", { rot: R, align: "center" }));
  g.push(txt("Binding Energy (eV)", 1045, 592, 29, SERIF, "#000", { align: "center" }));
  g.push(txt("Counts (cps)", 22, 770, 30, SERIF, "#000", { rot: R, align: "center" }));
  g.push(txt("Binding Energy (eV)", 246, 890, 29, SERIF, "#000", { align: "center" }));
  g.push(txt("Counts (cps)", 418, 740, 30, SERIF, "#000", { rot: R, align: "center" }));
  g.push(txt("Binding Energy (eV)", 646, 890, 29, SERIF, "#000", { align: "center" }));
  g.push(txt("Counts (cps)", 822, 745, 30, SERIF, "#000", { rot: R, align: "center" }));
  g.push(txt("Binding Energy (eV)", 1045, 890, 29, SERIF, "#000", { align: "center" }));
  surveyPeaks.forEach((p) => g.push(txt(p.name, p.x, p.y, 20, SANS, "#000", { rot: R, align: "center" })));
  g.push(...labelBox(667, 64, 72, 66, "a", 703, 97, 50));
  g.push(...labelBox(1168, 137, 60, 48, "f", 1186, 162, 38));
  g.push(...labelBox(907, 322, 50, 49, "e", 932, 347, 40));
  g.push(...labelBox(358, 662, 41, 49, "b", 379, 687, 40));
  g.push(...labelBox(753, 672, 35, 48, "c", 770, 697, 38));
  g.push(...labelBox(1151, 725, 60, 50, "d", 1173, 750, 40));
  g.push(...legendEls(963, 20, 135, 65, [32, 45, 59, 72], 970, 997, 999, 11.5));
  g.push(...legendEls(1067, 319, 180, 64, [331, 344, 358, 372], 1072, 1098, 1102, 11.5));
  g.push(...legendEls(92, 783, 136, 65, [795, 809, 823, 837], 100, 125, 128, 12.5));
  g.push(...legendEls(494, 617, 126, 55, [624, 638, 652, 666], 497, 523, 525, 11.5));
  g.push(...legendEls(1068, 648, 180, 64, [659, 673, 687, 701], 1075, 1101, 1103, 11.5));
  annotations.forEach((a) => g.push(txt(a.t, a.x, a.y, a.fs, a.f, RED, { bold: true })));
  arrows.forEach((a) => g.push(...arrowEls(a[0], a[1], a[2], a[3])));

  return {
    animation: false,
    backgroundColor: "#fff",
    grid: grids.map((gr) => ({ ...gr, show: true, borderColor: "#000", borderWidth: 1, backgroundColor: "transparent", containLabel: false, outerBoundsMode: "none" })),
    xAxis,
    yAxis,
    series,
    graphic: { elements: g },
  };
}

export default function App() {
  const ref = useRef<HTMLDivElement>(null);
  useEffect(() => {
    if (!ref.current) return;
    const chart = echarts.init(ref.current, null, { renderer: "svg" });
    chart.setOption(buildOption() as any);
    return () => chart.dispose();
  }, []);
  return (
    <div style={{ position: "fixed", left: 0, top: 0, width: 1199, height: 905, overflow: "hidden", background: "#fff" }}>
      <div ref={ref} style={{ width: 1240, height: 905 }} />
    </div>
  );
}
